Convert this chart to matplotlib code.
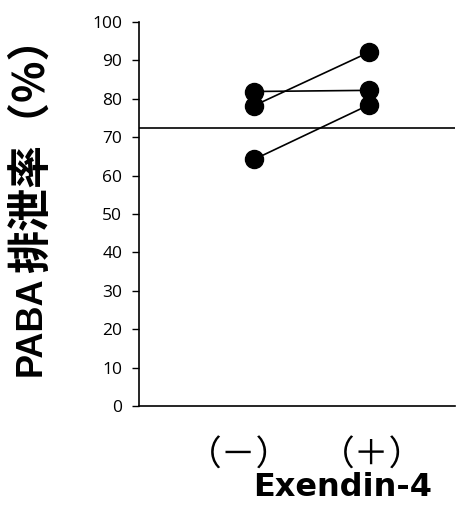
import matplotlib
matplotlib.use("Agg")
import matplotlib.pyplot as plt

# data
groups = ["（－）", "（＋）"]
before = [78.2, 81.9, 64.2]
after = [92.1, 82.2, 78.4]
ref_level = 72.3
yticks = list(range(0, 101, 10))

plt.rcParams['font.family'] = ['Open Sans', 'Noto Sans CJK JP', 'DejaVu Sans']

W, H = 458, 521
fig = plt.figure(figsize=(W / 100, H / 100), dpi=100)
ax = fig.add_axes([139 / W, 1 - 406 / H, 316 / W, 384 / H])

xpos = [1, 2]
for b, a in zip(before, after):
    ax.plot(xpos, [b, a], color="black", lw=1.2, marker="o", ms=13,
            markerfacecolor="black", markeredgecolor="black", zorder=3)

ax.axhline(ref_level, color="black", lw=1.2)

ax.set_xlim(0, 2.75)
ax.set_ylim(0, 100)
ax.set_yticks(yticks)
ax.set_yticklabels([str(t) for t in yticks], fontsize=12.5)
ax.tick_params(axis="y", direction="out", length=5, width=1, pad=7)
ax.set_xticks([])

for s in ["top", "right"]:
    ax.spines[s].set_visible(False)
ax.spines["left"].set_linewidth(1.2)
ax.spines["bottom"].set_linewidth(1.2)

# group labels under the axis
label_x = [239, 372]
for x, g in zip(label_x, groups):
    fig.text(x / W, 1 - 456 / H, g, ha="center", va="center", fontsize=25,
             family=["Noto Sans CJK JP", "DejaVu Sans"])

fig.text(343 / W, 1 - 488 / H, "Exendin-4", ha="center", va="center",
         fontsize=23, fontweight="bold", family=["DejaVu Sans"])

# y label: latin part and CJK part
fig.text(31 / W, 1 - 326 / H, "PABA", rotation=90, ha="center",
         va="center", fontsize=26, fontweight="bold",
         family=["Liberation Sans", "DejaVu Sans"])
fig.text(31 / W, 1 - 145 / H, "排泄率（%）", rotation=90, ha="center",
         va="center", fontsize=31, fontweight="bold",
         family=["Noto Sans CJK JP", "DejaVu Sans"])

fig.savefig("out.png", dpi=100)
